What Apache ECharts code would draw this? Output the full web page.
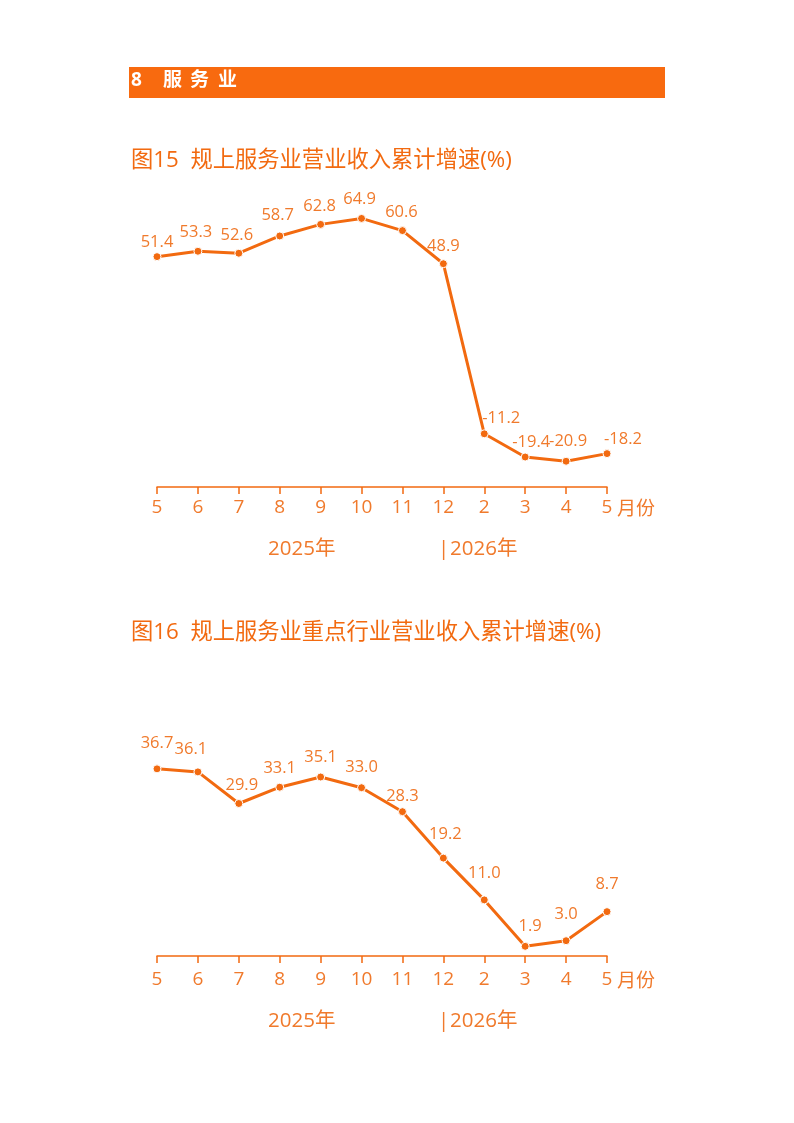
<!DOCTYPE html>
<html>
<head>
<meta charset="utf-8">
<script src="https://cdn.jsdelivr.net/npm/echarts@6/dist/echarts.min.js"></script>
<style>
  html, body { margin: 0; padding: 0; background: #fff; }
  #page { width: 794px; height: 1123px; }
</style>
</head>
<body>
<div id="page"></div>
<script>
// Chart data
const months = ["5", "6", "7", "8", "9", "10", "11", "12", "2", "3", "4", "5"]
const revenueGrowth = [51.4, 53.3, 52.6, 58.7, 62.8, 64.9, 60.6, 48.9, -11.2, -19.4, -20.9, -18.2]
const keyIndustryGrowth = [36.7, 36.1, 29.9, 33.1, 35.1, 33.0, 28.3, 19.2, 11.0, 1.9, 3.0, 8.7]
const yearLabels = ["2025年", "|", "2026年"]

const ORANGE = "#F26A10"
const LABEL = "#F07A2C"
const FONT = "'Open Sans', 'Noto Sans CJK SC', sans-serif"

// Nudges so labels sit where the original layout put them
const offsets1 = [[0, 3], [-2, -1], [-2, 0], [-2, -3], [-1, 0], [-2, -1], [-1, -1], [0, 0], [17, 2], [6, 3], [2, -2], [16, 3]]
const offsets2 = [[0, -8], [-7, -5], [3, 0], [0, -1], [0, -2], [0, -3], [0, 2], [2, -6], [0, -9], [5, -2], [0, -9], [0, -10]]

function xAxisFor(gridIndex, margin) {
    return {
        type: "category",
        gridIndex: gridIndex,
        data: months,
        boundaryGap: false,
        name: "月份",
        nameLocation: "end",
        nameGap: 10,
        nameTextStyle: {
            color: LABEL,
            fontSize: 19,
            fontFamily: FONT,
            verticalAlign: "top",
            padding: [margin + 2, 0, 0, 0],
        },
        axisLine: { onZero: false, lineStyle: { color: ORANGE, width: 1.5 } },
        axisTick: { show: true, length: 7, lineStyle: { color: ORANGE, width: 1.5 } },
        axisLabel: { color: LABEL, fontSize: 19, fontFamily: FONT, margin: margin },
        splitLine: { show: false },
    }
}

function seriesFor(values, offsets, axisIndex) {
    return {
        type: "line",
        xAxisIndex: axisIndex,
        yAxisIndex: axisIndex,
        data: values.map((v, i) => ({
            value: v,
            label: { offset: offsets[i] },
        })),
        symbol: "circle",
        symbolSize: 8,
        lineStyle: { color: ORANGE, width: 3 },
        itemStyle: { color: ORANGE, borderColor: "#fff", borderWidth: 1 },
        label: {
            show: true,
            position: "top",
            distance: 5,
            color: LABEL,
            fontSize: 16.5,
            fontFamily: FONT,
            formatter: (p) => p.value.toFixed(1),
        },
        animation: false,
    }
}

function yearText(y) {
    const st = { fill: LABEL, fontSize: 20.5, fontFamily: FONT }
    return [
        { type: "text", left: 268, top: y, style: { ...st, text: yearLabels[0] } },
        { type: "text", left: 438, top: y, style: { ...st, text: yearLabels[1] } },
        { type: "text", left: 450, top: y, style: { ...st, text: yearLabels[2] } },
    ]
}

function headerChar(text, x) {
    return { type: "text", left: x, top: 71, style: { text: text, fill: "#fff", fontSize: 19, fontWeight: "bold", fontFamily: FONT } }
}

const chart = echarts.init(document.getElementById("page"), null, { renderer: "canvas" })

const option = {
    backgroundColor: "#fff",
    title: [
        {
            text: "图15  规上服务业营业收入累计增速(%)",
            left: 126,
            top: 144,
            textStyle: { color: ORANGE, fontSize: 22.3, fontWeight: "normal", fontFamily: FONT },
        },
        {
            text: "图16  规上服务业重点行业营业收入累计增速(%)",
            left: 126,
            top: 616,
            textStyle: { color: ORANGE, fontSize: 22.3, fontWeight: "normal", fontFamily: FONT },
        },
    ],
    graphic: [
        { type: "rect", shape: { x: 129, y: 67, width: 536, height: 31 }, style: { fill: "#F86A0F" } },
        headerChar("8", 131),
        headerChar("服", 163),
        headerChar("务", 190),
        headerChar("业", 218),
        ...yearText(539),
        ...yearText(1011),
    ],
    grid: [
        { left: 157, width: 450, top: 204, height: 283 },
        { left: 157, width: 450, top: 752, height: 204 },
    ],
    xAxis: [xAxisFor(0, 11), xAxisFor(1, 14)],
    yAxis: [
        { type: "value", gridIndex: 0, min: -30, max: 70, show: false, splitLine: { show: false } },
        { type: "value", gridIndex: 1, min: 0, max: 40, show: false, splitLine: { show: false } },
    ],
    series: [
        seriesFor(revenueGrowth, offsets1, 0),
        seriesFor(keyIndustryGrowth, offsets2, 1),
    ],
}

chart.setOption(option)

window.addEventListener("resize", () => {
    chart.resize()
})
</script>
</body>
</html>
